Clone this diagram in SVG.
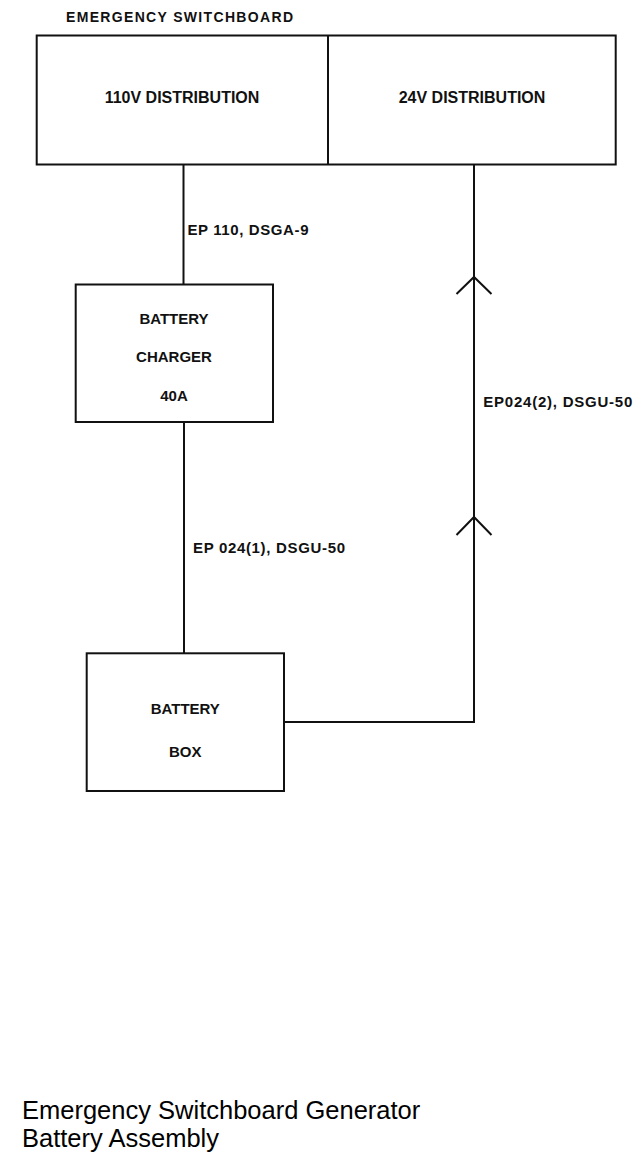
<svg xmlns="http://www.w3.org/2000/svg" width="639" height="1157" viewBox="0 0 639 1157">
<style>
.box{fill:#fff;stroke:#111;stroke-width:2}
.wire{fill:none;stroke:#111;stroke-width:2}
.lbl{font-family:"Liberation Sans",Arial,sans-serif;font-weight:bold;fill:#111}
.t16{font-size:16px}
.t15{font-size:15px}
.t14{font-size:14px}
.cap{font-family:"Liberation Sans",Arial,sans-serif;font-size:25.5px;fill:#000}
</style>
<rect width="639" height="1157" fill="#fff"/>
<g id="switchboard">
<text class="lbl t14" x="66" y="21.5" textLength="227" lengthAdjust="spacing">EMERGENCY SWITCHBOARD</text>
<rect class="box" x="36.7" y="35.5" width="579" height="129"/>
<line class="wire" x1="328" y1="35.5" x2="328" y2="164.5"/>
</g>
<g id="dist110">
<text class="lbl t16" x="182" y="102.7" text-anchor="middle">110V DISTRIBUTION</text>
</g>
<g id="dist24">
<text class="lbl t16" x="472" y="102.7" text-anchor="middle">24V DISTRIBUTION</text>
</g>
<g id="charger">
<rect class="box" x="75.7" y="284.5" width="197.3" height="137.5"/>
<text class="lbl t15" x="174" y="324" text-anchor="middle">BATTERY</text>
<text class="lbl t15" x="174" y="362" text-anchor="middle">CHARGER</text>
<text class="lbl t15" x="174" y="401" text-anchor="middle">40A</text>
</g>
<g id="batterybox">
<rect class="box" x="86.7" y="653.3" width="197.3" height="137.7"/>
<text class="lbl t15" x="185.3" y="714" text-anchor="middle">BATTERY</text>
<text class="lbl t15" x="185.3" y="756.7" text-anchor="middle">BOX</text>
</g>
<g id="connectors">
<line class="wire" x1="183.5" y1="164.5" x2="183.5" y2="284.5"/>
<line class="wire" x1="184" y1="422" x2="184" y2="653.3"/>
<polyline class="wire" points="284,722 474,722 474,164.5"/>
<polyline class="wire" points="456.5,294 474,277 491.5,294"/>
<polyline class="wire" points="456.5,535 474,517 491.5,535"/>
<text class="lbl t15" x="187.5" y="235" textLength="121" lengthAdjust="spacing">EP 110, DSGA-9</text>
<text class="lbl t15" x="193" y="552.7" textLength="152" lengthAdjust="spacing">EP 024(1), DSGU-50</text>
<text class="lbl t15" x="483.3" y="406.7" textLength="149" lengthAdjust="spacing">EP024(2), DSGU-50</text>
</g>
<g id="caption">
<text class="cap" x="22" y="1119">Emergency Switchboard Generator</text>
<text class="cap" x="22" y="1147">Battery Assembly</text>
</g>
</svg>
